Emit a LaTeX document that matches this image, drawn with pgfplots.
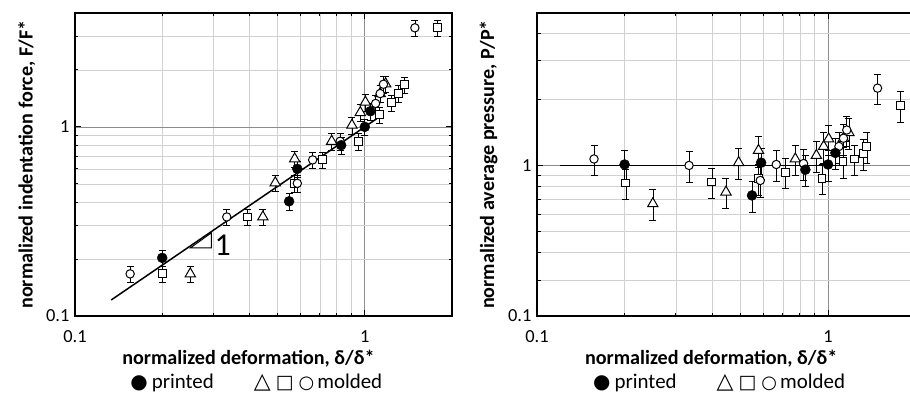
\documentclass[border=0pt]{standalone}
\usepackage{fontspec}
\setmainfont{Carlito}
\newfontfamily\symfont{DejaVu Sans}
\usepackage{pgfplots}
\pgfplotsset{compat=1.18}
\pgfplotsset{
  myerr/.style={/pgfplots/error bars/y dir=both, /pgfplots/error bars/y explicit relative,
    /pgfplots/error bars/error bar style={line width=0.6bp, black},
    /pgfplots/error bars/error mark options={rotate=90, black, mark size=3.5bp, line width=0.6bp}},
  myprinted/.style={only marks, mark=*, mark size=5bp, mark options={fill=black, draw=black}, myerr},
  mycirc/.style={only marks, mark=*, mark size=4.2bp, mark options={fill=white, draw=black, line width=1bp}, myerr},
  mysq/.style={only marks, mark=square*, mark size=3.9bp, mark options={fill=white, draw=black, line width=1bp}, myerr},
  mytri/.style={only marks, mark=triangle*, mark size=6bp, mark options={fill=white, draw=black, line width=1bp}, myerr},
}
\newcommand{\legendline}{{\symfont\fontsize{20}{20}\selectfont ●}\hspace{4bp}printed\hspace{40bp}{\symfont{\fontsize{22}{22}\selectfont △}\hspace{5bp}{\fontsize{19}{19}\selectfont □}\hspace{5bp}{\fontsize{18}{18}\selectfont ○}}\hspace{3bp}molded}
\begin{document}
\begin{tikzpicture}[x=1bp,y=1bp]
\useasboundingbox (0,0) rectangle (910,397);
% ---------------- left panel
\begin{axis}[xmode=log, ymode=log, scale only axis, height=303bp, clip=false,
    xmin=0.1, xmax=2,
    xtick={0.1,1}, xticklabels={0.1,1},
    minor xtick={0.2,0.3,0.4,0.5,0.6,0.7,0.8,0.9,2},
    grid=both,
    minor grid style={draw=black!18, line width=0.6bp},
    major grid style={draw=black!45, line width=0.7bp},
    axis line style={line width=1.6bp},
    tick align=inside,
    major tick length=6bp, minor tick length=3.5bp,
    every tick/.style={black, line width=1bp},
    /pgf/number format/assume math mode=true,
    tick label style={font=\fontsize{18.5}{18.5}\selectfont},
    xticklabel style={yshift=-11bp},
    yticklabel style={xshift=-2bp},
    label style={font=\bfseries\fontsize{20.2}{21}\selectfont, inner sep=0pt},
    xlabel={normalized deformation, δ/δ*},
    xlabel style={at={(axis description cs:0.46,-0.141)}, anchor=center},
    ylabel style={at={(axis description cs:-0.128,0.5)}, anchor=center},
  at={(75bp,81bp)}, anchor=south west, width=377bp,
  ymin=0.1, ymax=4, ytick={0.1,1}, yticklabels={0.1,1},
  minor ytick={0.2,0.3,0.4,0.5,0.6,0.7,0.8,0.9,2,3},
  ylabel={normalized indentation force, F/F*}]
\addplot[black, line width=1.5bp] coordinates {(0.1334,0.1216) (1.1,1.105)};
\addplot[mytri] table[row sep=\\, y error expr=0.1] {x y\\
0.25 0.167\\ 0.445 0.334\\ 0.491 0.506\\ 0.573 0.677\\ 0.769 0.839\\
0.903 1.02\\ 0.965 1.19\\ 1.005 1.35\\ 1.13 1.50\\ 1.18 1.69\\};
\addplot[mysq] table[row sep=\\, y error expr=0.1] {x y\\
0.2 0.167\\ 0.394 0.334\\ 0.573 0.503\\ 0.716 0.669\\ 0.953 0.839\\
1.124 1.16\\ 1.238 1.34\\ 1.31 1.50\\ 1.374 1.67\\ 1.777 3.34\\};
\addplot[mycirc] table[row sep=\\, y error expr=0.1] {x y\\
0.155 0.167\\ 0.334 0.334\\ 0.585 0.503\\ 0.661 0.669\\ 0.822 0.839\\
1.09 1.33\\ 1.13 1.50\\ 1.16 1.68\\ 1.489 3.34\\};
\addplot[myprinted] table[row sep=\\, y error expr=0.1] {x y\\
0.2 0.203\\ 0.548 0.404\\ 0.585 0.60\\ 0.829 0.80\\ 1.0 1.0\\ 1.046 1.21\\};
\draw[line width=1bp] (axis cs:0.25,0.229) -- (axis cs:0.2953,0.275) -- (axis cs:0.2953,0.229) -- cycle;
\node[font=\fontsize{32}{32}\selectfont] at (axis cs:0.3236,0.2355) {1};
\node[font=\fontsize{21}{21}\selectfont, inner sep=0pt] at (axis description cs:0.481,-0.222) {\legendline};
\end{axis}
% ---------------- right panel
\begin{axis}[xmode=log, ymode=log, scale only axis, height=303bp, clip=false,
    xmin=0.1, xmax=2,
    xtick={0.1,1}, xticklabels={0.1,1},
    minor xtick={0.2,0.3,0.4,0.5,0.6,0.7,0.8,0.9,2},
    grid=both,
    minor grid style={draw=black!18, line width=0.6bp},
    major grid style={draw=black!45, line width=0.7bp},
    axis line style={line width=1.6bp},
    tick align=inside,
    major tick length=6bp, minor tick length=3.5bp,
    every tick/.style={black, line width=1bp},
    /pgf/number format/assume math mode=true,
    tick label style={font=\fontsize{18.5}{18.5}\selectfont},
    xticklabel style={yshift=-11bp},
    yticklabel style={xshift=-2bp},
    label style={font=\bfseries\fontsize{20.2}{21}\selectfont, inner sep=0pt},
    xlabel={normalized deformation, δ/δ*},
    xlabel style={at={(axis description cs:0.46,-0.141)}, anchor=center},
    ylabel style={at={(axis description cs:-0.128,0.5)}, anchor=center},
  at={(537bp,81bp)}, anchor=south west, width=378.6bp,
  ymin=0.206, ymax=4.95, ytick={0.206,1}, yticklabels={0.1,1},
  minor ytick={0.3,0.4,0.5,0.6,0.7,0.8,0.9,2,3,4},
  ylabel={normalized average pressure, P/P*}]
\addplot[black, line width=1.5bp] coordinates {(0.12,1) (1.1,1)};
\addplot[mytri] table[row sep=\\, y error expr=0.16] {x y\\
0.25 0.669\\ 0.446 0.756\\ 0.493 1.03\\ 0.577 1.17\\ 0.772 1.07\\
0.912 1.11\\ 0.966 1.22\\ 1.005 1.32\\ 1.13 1.33\\ 1.18 1.41\\};
\addplot[mysq] table[row sep=\\, y error expr=0.16] {x y\\
0.202 0.831\\ 0.399 0.84\\ 0.577 0.87\\ 0.713 0.932\\ 0.954 0.875\\
1.126 1.04\\ 1.235 1.07\\ 1.32 1.13\\ 1.36 1.22\\ 1.77 1.87\\};
\addplot[mycirc] table[row sep=\\, y error expr=0.16] {x y\\
0.157 1.07\\ 0.333 1.0\\ 0.585 0.854\\ 0.664 1.01\\ 0.824 1.02\\
1.09 1.22\\ 1.13 1.33\\ 1.16 1.45\\ 1.48 2.25\\};
\addplot[myprinted] table[row sep=\\, y error expr=0.16] {x y\\
0.2 1.01\\ 0.548 0.73\\ 0.589 1.03\\ 0.836 0.956\\ 1.0 1.01\\ 1.06 1.14\\};
\node[font=\fontsize{21}{21}\selectfont, inner sep=0pt] at (axis description cs:0.481,-0.222) {\legendline};
\end{axis}
\end{tikzpicture}
\end{document}
